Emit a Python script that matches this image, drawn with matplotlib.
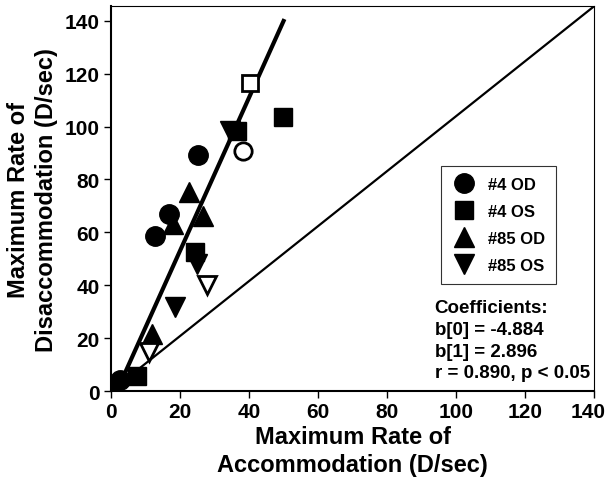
import matplotlib.pyplot as plt
import matplotlib.transforms as mtransforms

plt.rcParams['font.family'] = ['Liberation Sans', 'DejaVu Sans']
plt.rcParams['font.weight'] = 'bold'

# #4 OD (circles)
od4_x = [2.6, 12.8, 16.8, 25.2]
od4_y = [4.2, 58.6, 67.0, 89.3]
od4_open_x = [38.3]
od4_open_y = [90.8]

# #4 OS (squares)
os4_x = [7.5, 24.3, 36.5, 49.8]
os4_y = [5.7, 52.6, 98.4, 103.7]
os4_open_x = [40.3]
os4_open_y = [116.5]

# #85 OD (up triangles)
od85_x = [0.5, 11.9, 18.0, 22.6, 26.7]
od85_y = [1.5, 21.6, 63.0, 75.3, 66.2]

# #85 OS (down triangles)
os85_x = [18.5, 24.8, 34.5]
os85_y = [31.8, 48.0, 98.4]
os85_open_x = [11.0, 27.7]
os85_open_y = [14.7, 40.0]

b0 = -4.884
b1 = 2.896
fit_x = [2.0, 50.0]
fit_y = [b0 + b1 * v for v in fit_x]

fig = plt.figure(figsize=(6.1, 4.81), dpi=100)
ax = fig.add_axes([0.182, 0.185, 0.792, 0.8])

ax.plot([0, 140], [0, 145.5], color='black', lw=1.6, zorder=1)
ax.plot(fit_x, fit_y, color='black', lw=3, zorder=2)

ax.plot(od4_x, od4_y, 'o', color='black', ms=14, label='#4 OD', zorder=3)
ax.plot(os4_x, os4_y, 's', color='black', ms=13, label='#4 OS', zorder=3)
ax.plot(od85_x, od85_y, '^', color='black', ms=15, label='#85 OD', zorder=3)
ax.plot(os85_x, os85_y, 'v', color='black', ms=15, label='#85 OS', zorder=3)
ax.plot(od4_open_x, od4_open_y, 'o', mfc='white', mec='black', mew=2, ms=12.5, zorder=3)
ax.plot(os4_open_x, os4_open_y, 's', mfc='white', mec='black', mew=2, ms=12, zorder=3)
ax.plot(os85_open_x, os85_open_y, 'v', mfc='white', mec='black', mew=2, ms=13, zorder=3)

ax.set_xlim(0, 140)
ax.set_ylim(0, 145.5)
ax.set_xticks(range(0, 141, 20))
ax.set_yticks(range(0, 141, 20))
ax.tick_params(labelsize=15, length=5, width=1, direction='out', pad=3)
for lab in ax.get_xticklabels() + ax.get_yticklabels():
    lab.set_fontweight('bold')

# keep the last x tick label inside the picture
last = ax.get_xticklabels()[-1]
last.set_transform(last.get_transform() + mtransforms.ScaledTranslation(-4 / 72, 0, fig.dpi_scale_trans))

ax.spines['left'].set_linewidth(1.5)
ax.spines['bottom'].set_linewidth(1.5)
ax.spines['top'].set_linewidth(0.8)
ax.spines['right'].set_linewidth(0.8)

ax.set_xlabel('Maximum Rate of\nAccommodation (D/sec)', fontsize=17, fontweight='bold',
              linespacing=1.25, labelpad=3)
ax.set_ylabel('Maximum Rate of\nDisaccommodation (D/sec)', fontsize=17, fontweight='bold',
              linespacing=1.25, labelpad=5)

leg = ax.legend(loc='upper left', bbox_to_anchor=(0.683, 0.584), fontsize=12,
                frameon=True, fancybox=False, edgecolor='black', handletextpad=0.7,
                borderpad=0.65, labelspacing=0.72, handlelength=1.5, borderaxespad=0)
leg.get_frame().set_linewidth(0.8)
for t in leg.get_texts():
    t.set_fontweight('bold')

ax.text(0.67, 0.24, 'Coefficients:\nb[0] = -4.884\nb[1] = 2.896\nr = 0.890, p < 0.05',
        transform=ax.transAxes, fontsize=13.5, fontweight='bold', va='top', ha='left',
        linespacing=1.38)

fig.savefig('out.png', dpi=100)
